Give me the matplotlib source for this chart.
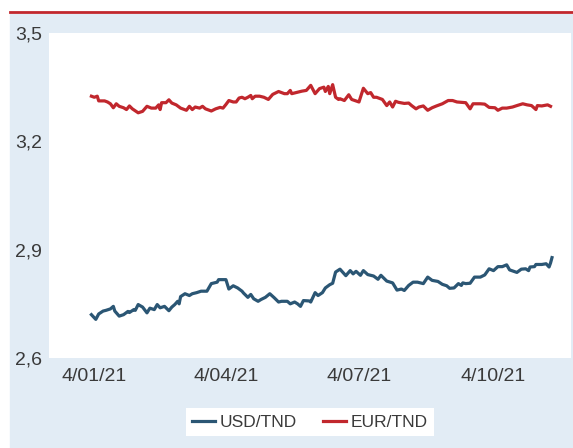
import pandas as pd
import matplotlib.pyplot as plt
import matplotlib.dates as mdates
from matplotlib.ticker import FixedLocator, FuncFormatter
from matplotlib.lines import Line2D
from matplotlib.patches import Rectangle

# taux de change
usd_dates = ['2021-01-02', '2021-01-05', '2021-01-07', '2021-01-10', '2021-01-12', '2021-01-15',
             '2021-01-17', '2021-01-18', '2021-01-21', '2021-01-24', '2021-01-27', '2021-01-28',
             '2021-01-31', '2021-02-01', '2021-02-03', '2021-02-06', '2021-02-09', '2021-02-11',
             '2021-02-14', '2021-02-16', '2021-02-18', '2021-02-21', '2021-02-24', '2021-02-26',
             '2021-02-28', '2021-03-02', '2021-03-03', '2021-03-04', '2021-03-07', '2021-03-10',
             '2021-03-12', '2021-03-15', '2021-03-18', '2021-03-22', '2021-03-25', '2021-03-29',
             '2021-03-30', '2021-04-02', '2021-04-04', '2021-04-06', '2021-04-09', '2021-04-12',
             '2021-04-15', '2021-04-16', '2021-04-19', '2021-04-21', '2021-04-23', '2021-04-26',
             '2021-04-28', '2021-05-01', '2021-05-04', '2021-05-07', '2021-05-10', '2021-05-12',
             '2021-05-16', '2021-05-18', '2021-05-21', '2021-05-23', '2021-05-25', '2021-05-27',
             '2021-05-31', '2021-06-01', '2021-06-04', '2021-06-06', '2021-06-09', '2021-06-11',
             '2021-06-14', '2021-06-16', '2021-06-18', '2021-06-21', '2021-06-25', '2021-06-28',
             '2021-06-30', '2021-07-02', '2021-07-05', '2021-07-07', '2021-07-10', '2021-07-14',
             '2021-07-17', '2021-07-19', '2021-07-23', '2021-07-27', '2021-07-30', '2021-08-02',
             '2021-08-04', '2021-08-07', '2021-08-10', '2021-08-13', '2021-08-17', '2021-08-20',
             '2021-08-23', '2021-08-27', '2021-08-30', '2021-09-02', '2021-09-04', '2021-09-07',
             '2021-09-10', '2021-09-12', '2021-09-13', '2021-09-15', '2021-09-18', '2021-09-21',
             '2021-09-25', '2021-09-28', '2021-10-01', '2021-10-04', '2021-10-07', '2021-10-10',
             '2021-10-13', '2021-10-15', '2021-10-20', '2021-10-23', '2021-10-26', '2021-10-28',
             '2021-10-29', '2021-11-01', '2021-11-02', '2021-11-06', '2021-11-09', '2021-11-11',
             '2021-11-12', '2021-11-13']
usd_tnd = [2.720, 2.707, 2.722, 2.730, 2.732, 2.736,
           2.743, 2.730, 2.716, 2.720, 2.729, 2.726,
           2.734, 2.732, 2.748, 2.741, 2.725, 2.738,
           2.734, 2.748, 2.739, 2.743, 2.731, 2.741,
           2.748, 2.757, 2.750, 2.770, 2.778, 2.773,
           2.778, 2.781, 2.785, 2.785, 2.806, 2.810,
           2.817, 2.817, 2.817, 2.791, 2.800, 2.794,
           2.785, 2.780, 2.768, 2.776, 2.764, 2.757,
           2.762, 2.768, 2.778, 2.767, 2.755, 2.757,
           2.757, 2.750, 2.755, 2.750, 2.743, 2.759,
           2.758, 2.755, 2.781, 2.773, 2.781, 2.794,
           2.803, 2.807, 2.838, 2.846, 2.828, 2.842,
           2.833, 2.840, 2.829, 2.842, 2.831, 2.827,
           2.818, 2.829, 2.813, 2.808, 2.788, 2.791,
           2.787, 2.801, 2.810, 2.810, 2.806, 2.824,
           2.815, 2.812, 2.804, 2.800, 2.793, 2.794,
           2.806, 2.801, 2.808, 2.806, 2.807, 2.824,
           2.824, 2.830, 2.847, 2.842, 2.853, 2.853,
           2.858, 2.844, 2.837, 2.846, 2.847, 2.842,
           2.852, 2.853, 2.859, 2.859, 2.861, 2.852,
           2.863, 2.878]

eur_dates = ['2021-01-02', '2021-01-04', '2021-01-06', '2021-01-07', '2021-01-11', '2021-01-13',
             '2021-01-15', '2021-01-17', '2021-01-19', '2021-01-21', '2021-01-24', '2021-01-26',
             '2021-01-28', '2021-01-30', '2021-02-03', '2021-02-06', '2021-02-09', '2021-02-12',
             '2021-02-15', '2021-02-17', '2021-02-18', '2021-02-19', '2021-02-22', '2021-02-24',
             '2021-02-26', '2021-03-01', '2021-03-04', '2021-03-08', '2021-03-10', '2021-03-12',
             '2021-03-14', '2021-03-17', '2021-03-19', '2021-03-21', '2021-03-25', '2021-03-28',
             '2021-03-31', '2021-04-02', '2021-04-04', '2021-04-06', '2021-04-09', '2021-04-11',
             '2021-04-13', '2021-04-15', '2021-04-17', '2021-04-19', '2021-04-21', '2021-04-22',
             '2021-04-24', '2021-04-27', '2021-04-30', '2021-05-03', '2021-05-06', '2021-05-10',
             '2021-05-14', '2021-05-16', '2021-05-18', '2021-05-19', '2021-05-23', '2021-05-26',
             '2021-05-29', '2021-06-01', '2021-06-04', '2021-06-07', '2021-06-10', '2021-06-11',
             '2021-06-13', '2021-06-14', '2021-06-16', '2021-06-18', '2021-06-20', '2021-06-21',
             '2021-06-24', '2021-06-27', '2021-06-29', '2021-07-04', '2021-07-07', '2021-07-10',
             '2021-07-12', '2021-07-14', '2021-07-16', '2021-07-20', '2021-07-23', '2021-07-25',
             '2021-07-27', '2021-07-29', '2021-07-31', '2021-08-04', '2021-08-07', '2021-08-09',
             '2021-08-12', '2021-08-14', '2021-08-17', '2021-08-20', '2021-08-23', '2021-08-26',
             '2021-08-30', '2021-09-03', '2021-09-06', '2021-09-09', '2021-09-15', '2021-09-18',
             '2021-09-20', '2021-09-25', '2021-09-28', '2021-10-01', '2021-10-05', '2021-10-07',
             '2021-10-10', '2021-10-13', '2021-10-17', '2021-10-20', '2021-10-24', '2021-10-27',
             '2021-10-30', '2021-11-02', '2021-11-03', '2021-11-06', '2021-11-10', '2021-11-12']
eur_tnd = [3.325, 3.322, 3.325, 3.312, 3.312, 3.309,
           3.304, 3.293, 3.304, 3.297, 3.293, 3.288,
           3.298, 3.290, 3.279, 3.283, 3.297, 3.292,
           3.292, 3.301, 3.288, 3.307, 3.307, 3.315,
           3.306, 3.301, 3.292, 3.286, 3.297, 3.288,
           3.295, 3.292, 3.297, 3.290, 3.284, 3.290,
           3.294, 3.292, 3.302, 3.313, 3.309, 3.309,
           3.320, 3.322, 3.318, 3.322, 3.327, 3.318,
           3.325, 3.325, 3.322, 3.316, 3.330, 3.338,
           3.332, 3.332, 3.341, 3.332, 3.336, 3.339,
           3.341, 3.355, 3.332, 3.346, 3.350, 3.338,
           3.352, 3.332, 3.357, 3.322, 3.316, 3.318,
           3.313, 3.329, 3.316, 3.309, 3.347, 3.332,
           3.335, 3.322, 3.322, 3.316, 3.299, 3.309,
           3.295, 3.311, 3.308, 3.305, 3.306, 3.299,
           3.290, 3.295, 3.298, 3.286, 3.293, 3.298,
           3.304, 3.313, 3.313, 3.309, 3.307, 3.290,
           3.304, 3.304, 3.303, 3.294, 3.293, 3.286,
           3.292, 3.292, 3.295, 3.299, 3.304, 3.301,
           3.299, 3.288, 3.299, 3.298, 3.301, 3.297]

x_ticks = ['2021-01-04', '2021-04-04', '2021-07-04', '2021-10-04']
y_ticks = [2.6, 2.9, 3.2, 3.5]

red = '#c1272d'
blue = '#2b5674'
bg = '#e2ecf5'
txt = '#3a3a3a'

fig = plt.figure(figsize=(5.73, 4.48), dpi=100)
fig.patch.set_facecolor('white')

# fond bleu clair + filet rouge en haut
fig.patches.append(Rectangle((10 / 573, 0), 563 / 573, 434 / 448,
                             transform=fig.transFigure, color=bg, zorder=-5))
fig.add_artist(Line2D([10 / 573, 1], [435.5 / 448, 435.5 / 448],
                      transform=fig.transFigure, color=red, lw=2, zorder=-4))

ax = fig.add_axes([49 / 573, 90 / 448, 522 / 573, 325 / 448])
ax.set_facecolor('white')

ax.plot(pd.to_datetime(usd_dates), usd_tnd, color=blue, lw=2.3, label='USD/TND')
ax.plot(pd.to_datetime(eur_dates), eur_tnd, color=red, lw=2.3, label='EUR/TND')

ax.set_ylim(2.6, 3.5)
ax.set_xlim(pd.Timestamp('2020-12-04'), pd.Timestamp('2021-11-26'))
ax.yaxis.set_major_locator(FixedLocator(y_ticks))
ax.yaxis.set_major_formatter(FuncFormatter(lambda v, p: f'{v:.1f}'.replace('.', ',')))
ax.xaxis.set_major_locator(FixedLocator(mdates.date2num(pd.to_datetime(x_ticks))))
ax.xaxis.set_major_formatter(FuncFormatter(
    lambda v, p: mdates.num2date(v).strftime('%d/%m/%y').lstrip('0')))

for s in ax.spines.values():
    s.set_visible(False)
ax.tick_params(length=0, labelsize=14, labelcolor=txt)
ax.tick_params(axis='y', pad=5)
ax.tick_params(axis='x', pad=7)
for lab in ax.get_xticklabels() + ax.get_yticklabels():
    lab.set_family(['Liberation Sans', 'DejaVu Sans'])

leg = fig.legend(loc='center', bbox_to_anchor=(310 / 573, 26 / 448), ncol=2,
                 frameon=True, fancybox=False, edgecolor='none', facecolor='white',
                 framealpha=1, handlelength=1.3, handletextpad=0.3, columnspacing=1.5,
                 borderpad=0.35, borderaxespad=0,
                 prop={'family': ['Liberation Sans', 'DejaVu Sans'], 'size': 12.5})
for t in leg.get_texts():
    t.set_color(txt)

plt.savefig('out.png', dpi=100)
